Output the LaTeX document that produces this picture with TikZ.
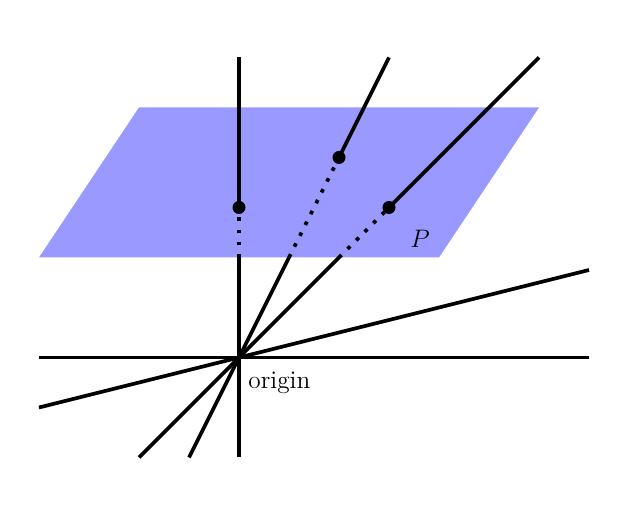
\documentclass[tikz,border=0pt]{standalone}
\usepackage{amsmath}
\usepackage{xcolor}
\definecolor{planeblue}{RGB}{153,153,255}
\begin{document}
\begin{tikzpicture}[
    x=1cm, y=1cm,
    ray/.style={line width=2.1pt},
    gap/.style={line width=2.1pt, dash pattern=on 2.1pt off 4.8pt},
    pointdot/.style={circle, fill=black, inner sep=0pt, minimum size=2.6mm}
]
    \useasboundingbox (-4.78,-3.11) rectangle (7.98,7.15);

    \fill[planeblue] (-4,2) -- (4,2) -- (6,5) -- (-2,5) -- cycle;

    \coordinate (origin) at (0,0);
    \coordinate (west) at (-4,0);
    \coordinate (east) at (7,0);
    \coordinate (south) at (0,-2);
    \coordinate (north) at (0,6);
    \coordinate (lowleft) at (-1,-2);
    \coordinate (upleft) at (3,6);
    \coordinate (lowright) at (-2,-2);
    \coordinate (upright) at (6,6);
    \coordinate (flatleft) at (-4,-1);
    \coordinate (flatright) at (7,1.75);
    \coordinate (edgea) at (0,2);
    \coordinate (edgeb) at (1,2);
    \coordinate (edgec) at (2,2);

    \node[pointdot] (pa) at (0,3) {};
    \node[pointdot] (pb) at (2,4) {};
    \node[pointdot] (pc) at (3,3) {};

    % Lines through the origin
    \draw[ray] (west) -- (east);
    \draw[ray] (flatleft) -- (flatright);
    \draw[ray] (south) -- (edgea);
    \draw[ray] (lowleft) -- (edgeb);
    \draw[ray] (lowright) -- (edgec);

    % Above the plane edge
    \draw[gap] (edgea) -- (pa.center);
    \draw[gap] (edgeb) -- (pb.center);
    \draw[gap] (edgec) -- (pc.center);
    \draw[ray] (pa.center) -- (north);
    \draw[ray] (pb.center) -- (upleft);
    \draw[ray] (pc.center) -- (upright);

    \node[font=\Large, anchor=base west, inner sep=0pt] (originlabel) at (0.18,-0.62) {origin};
    \node[font=\Large, anchor=base, inner sep=0pt] (planelabel) at (3.62,2.2) {$P$};
\end{tikzpicture}
\end{document}
